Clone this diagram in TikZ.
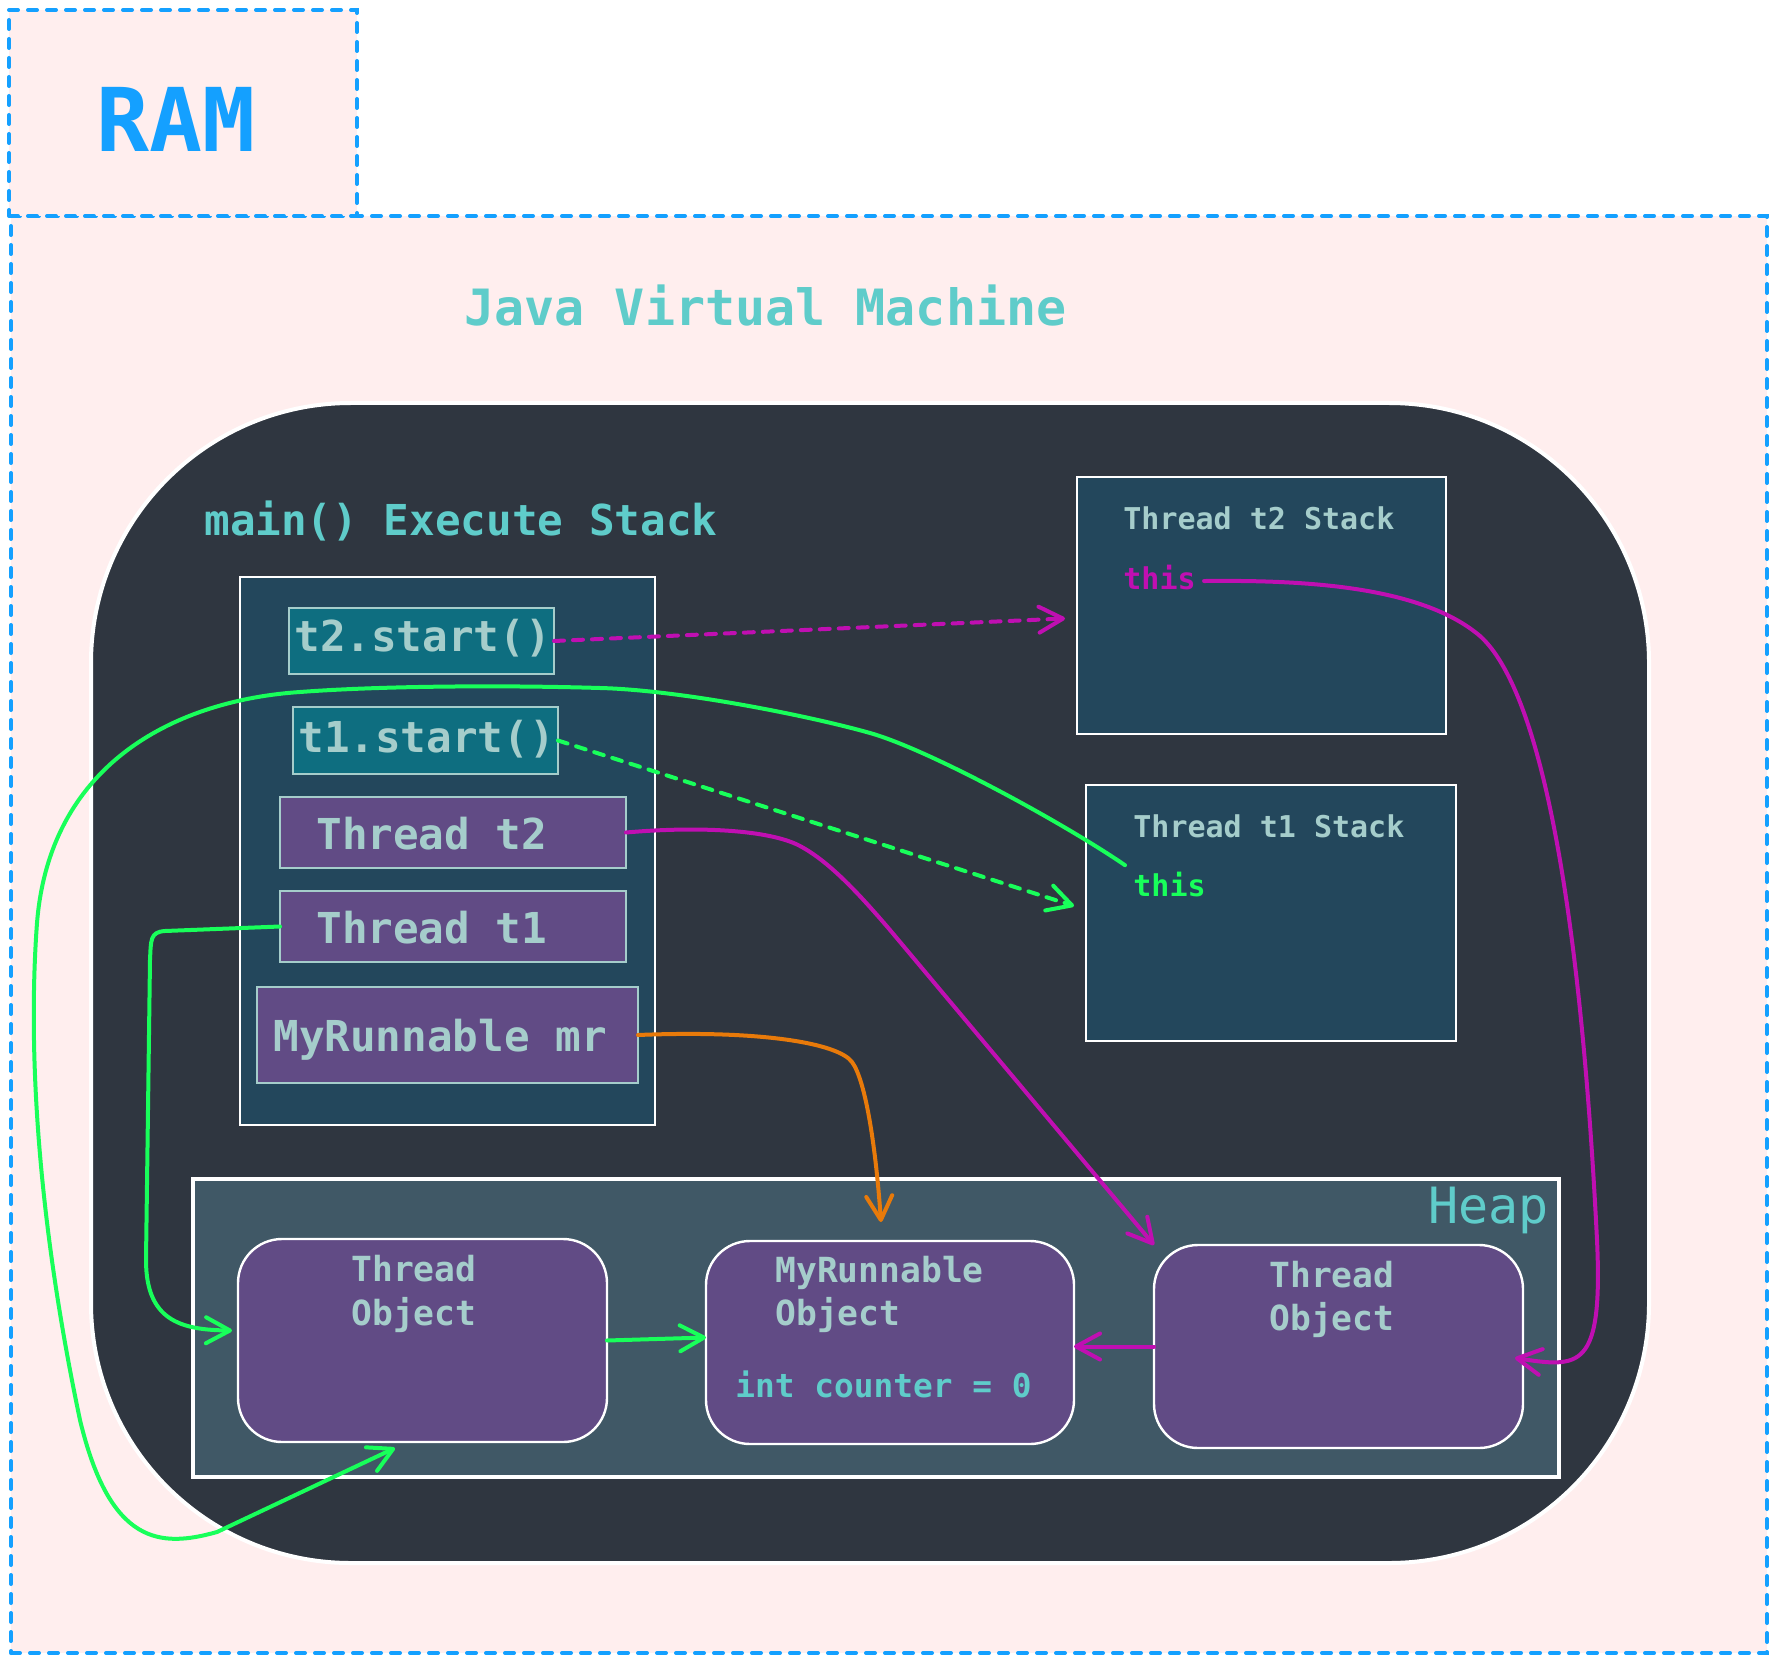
\documentclass[tikz,border=0pt]{standalone}
\usepackage{fontspec}
\setmonofont{DejaVu Sans Mono}
\usetikzlibrary{arrows.meta,fit,calc}
\definecolor{pinkbg}{HTML}{FFEEEE}
\definecolor{ramblue}{HTML}{14A0FF}
\definecolor{jvmteal}{HTML}{5FCCCA}
\definecolor{darkbg}{HTML}{2F3640}
\definecolor{stackfill}{HTML}{23475C}
\definecolor{startfill}{HTML}{0E6E80}
\definecolor{varpurple}{HTML}{614B85}
\definecolor{heapfill}{HTML}{405866}
\definecolor{lighttext}{HTML}{A5CDCB}
\definecolor{magline}{HTML}{C00FB2}
\definecolor{greenline}{HTML}{18FF5A}
\definecolor{orangeline}{HTML}{E87A0A}
\newcommand\fRam{\ttfamily\bfseries\fontsize{44}{50}\selectfont}
\newcommand\fJvm{\ttfamily\bfseries\fontsize{25}{30}\selectfont}
\newcommand\fMain{\ttfamily\bfseries\fontsize{21.3}{26}\selectfont}
\newcommand\fStk{\ttfamily\bfseries\fontsize{15}{18}\selectfont}
\newcommand\fObj{\ttfamily\bfseries\fontsize{17.3}{21}\selectfont}
\newcommand\fCnt{\ttfamily\bfseries\fontsize{16.4}{20}\selectfont}
\begin{document}
\begin{tikzpicture}[x=0.5pt,y=-0.5pt,
  frame/.style={inner sep=0pt, outer sep=0pt},
  dashframe/.style={frame, fill=pinkbg, draw=ramblue, line width=2pt, dash pattern=on 4.5pt off 5pt, line cap=round},
  stackbox/.style={frame, fill=stackfill, draw=white, line width=1.3pt},
  startbox/.style={frame, fill=startfill, draw=lighttext, line width=1pt},
  varbox/.style={frame, fill=varpurple, draw=lighttext, line width=1pt},
  objbox/.style={frame, fill=varpurple, draw=white, line width=1.2pt, rounded corners=22pt},
  lbl/.style={inner sep=0pt, anchor=base west, text=lighttext},
  conn/.style={line width=2pt, line cap=round, line join=round, -{Straight Barb[length=12pt,width=13pt,round]}},
  dashconn/.style={conn, dash pattern=on 5pt off 4.5pt},
]
\useasboundingbox (0,0) rectangle (1776,1663);
\fill[white] (0,0) rectangle (1776,1663);

% frames
\node[dashframe, fit={(11,216)(1767,1653)}] (jvm) {};
\node[dashframe, fit={(9,10)(357,216)}] (ram) {};
\node[frame, fill=darkbg, draw=white, line width=2pt, rounded corners=130pt, fit={(91,403)(1649,1563)}] (core) {};

% labels of frames
\node[inner sep=0pt, text=ramblue, font=\fRam] (ramtxt) at (176,119) {RAM};
\node[inner sep=0pt, anchor=base west, text=jvmteal, font=\fJvm] (jvmtxt) at (464,326) {Java Virtual Machine};
\node[inner sep=0pt, anchor=base west, text=jvmteal, font=\fMain] (maintxt) at (204,535) {main() Execute Stack};

% main stack
\node[stackbox, fit={(240,577)(655,1125)}] (mainstk) {};
\node[startbox, fit={(289,608)(554,674)}] (t2s) {};
\node[lbl, font=\fMain] (t2stxt) at (294,651) {t2.start()};
\node[startbox, fit={(293,707)(558,774)}] (t1s) {};
\node[lbl, font=\fMain] (t1stxt) at (298,752) {t1.start()};
\node[varbox, fit={(280,797)(626,868)}] (tt2) {};
\node[lbl, font=\fMain] (tt2txt) at (316,849) {Thread t2};
\node[varbox, fit={(280,891)(626,962)}] (tt1) {};
\node[lbl, font=\fMain] (tt1txt) at (316,943) {Thread t1};
\node[varbox, fit={(257,987)(638,1083)}] (mr) {};
\node[lbl, font=\fMain] (mrtxt) at (273,1051) {MyRunnable mr};

% thread stacks
\node[stackbox, fit={(1077,477)(1446,734)}] (t2stk) {};
\node[lbl, font=\fStk] (t2stktxt) at (1123,530) {Thread t2 Stack};
\node[lbl, font=\fStk, text=magline] (t2this) at (1123,589) {this};
\node[stackbox, fit={(1086,785)(1456,1041)}] (t1stk) {};
\node[lbl, font=\fStk] (t1stktxt) at (1133,837) {Thread t1 Stack};
\node[lbl, font=\fStk, text=greenline] (t1this) at (1133,896) {this};

% heap
\node[frame, fill=heapfill, draw=white, line width=2.2pt, fit={(193,1179)(1559,1477)}] (heap) {};
\node[inner sep=0pt, anchor=base east, text=jvmteal, font=\ttfamily\fontsize{25}{30}\selectfont] (heaptxt) at (1549,1223) {Heap};
\node[objbox, fit={(238,1239)(607,1442)}] (thrL) {};
\node[lbl, font=\fObj] (thrLa) at (351,1281) {Thread};
\node[lbl, font=\fObj] (thrLb) at (351,1325) {Object};
\node[objbox, fit={(706,1241)(1074,1444)}] (mro) {};
\node[lbl, font=\fObj] (mroa) at (775,1282) {MyRunnable};
\node[lbl, font=\fObj] (mrob) at (775,1325) {Object};
\node[lbl, font=\fCnt, text=jvmteal] (cnt) at (735,1397) {int counter = 0};
\node[objbox, fit={(1154,1245)(1523,1448)}] (thrR) {};
\node[lbl, font=\fObj] (thrRa) at (1269,1287) {Thread};
\node[lbl, font=\fObj] (thrRb) at (1269,1330) {Object};

% connectors
\draw[dashconn, magline] (t2s.east) -- ([xshift=-6pt,yshift=-6.5pt]t2stk.west);
\draw[dashconn, greenline] (t1s.east) -- ([xshift=-6pt,yshift=3.5pt]t1stk.west);
\draw[conn, magline] (tt2.east) .. controls (700,826) and (770,830) .. (800,846)
   .. controls (830,862) and (860,895) .. (890,930) -- (thrR.north west);
\draw[conn, orangeline] (mr.east) .. controls (760,1030) and (838,1043) .. (852,1062)
   .. controls (866,1081) and (876,1150) .. ([xshift=-4.5pt,yshift=9.5pt]mro.north);
\draw[conn, greenline] (tt1.west) -- (165,931) .. controls (150,932) and (151,940) .. (150,960)
   -- (146,1260) .. controls (146,1320) and (180,1330) .. ([xshift=-3pt,yshift=5pt]thrL.west);
\draw[conn, greenline] ([xshift=-4pt,yshift=3pt]t1this.north west) .. controls (1065,824) and (930,750) .. (870,733)
   .. controls (810,716) and (680,690) .. (600,688)
   .. controls (500,685) and (380,686) .. (300,692)
   .. controls (180,700) and (50,760) .. (37,923)
   .. controls (27,1060) and (40,1230) .. (80,1420)
   .. controls (110,1545) and (160,1548) .. (217,1532)
   -- ([xshift=-13.75pt,yshift=-3pt]thrL.south);
\draw[conn, magline] ([xshift=4pt,yshift=-2pt]t2this.east) .. controls (1300,580) and (1420,585) .. (1480,636)
   .. controls (1540,690) and (1580,900) .. (1597,1240)
   .. controls (1603,1370) and (1580,1368) .. ([xshift=-4pt,yshift=-5.75pt]thrR.east);
\draw[conn, magline] (thrR.west) -- (thrR.west -| mro.east);
\draw[conn, greenline] (thrL.east) -- ([yshift=2.5pt]mro.west);
\end{tikzpicture}
\end{document}
